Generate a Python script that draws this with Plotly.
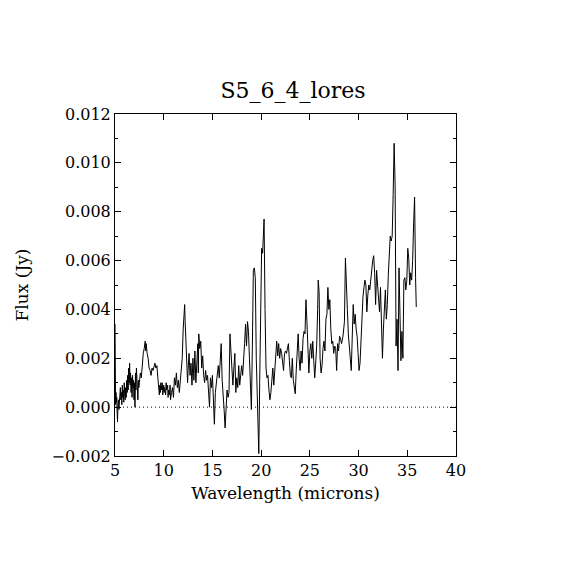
import plotly.graph_objects as go

# wavelength (microns) and flux (mJy, converted to Jy below)
wavelength = [
    5.00, 5.03, 5.06, 5.10, 5.14, 5.18, 5.22, 5.26, 5.30, 5.35, 5.40, 5.45, 5.50, 5.55,
    5.60, 5.65, 5.70, 5.75, 5.80, 5.85, 5.90, 5.95, 6.00, 6.05, 6.10, 6.15, 6.20, 6.25,
    6.30, 6.35, 6.40, 6.45, 6.50, 6.55, 6.60, 6.65, 6.70, 6.75, 6.80, 6.85, 6.90, 6.95,
    7.00, 7.05, 7.10, 7.15, 7.20, 7.25, 7.30, 7.35, 7.40, 7.45, 7.50, 7.60, 7.70, 7.80,
    7.90, 8.00, 8.10, 8.15, 8.20, 8.30, 8.40, 8.50, 8.60, 8.70, 8.80, 8.90, 9.00, 9.10,
    9.20, 9.30, 9.40, 9.50, 9.55, 9.60, 9.65, 9.70, 9.80, 9.85, 9.90, 10.00, 10.05, 10.10,
    10.20, 10.25, 10.30, 10.40, 10.45, 10.50, 10.60, 10.65, 10.70, 10.80, 10.90, 11.00,
    11.10, 11.20, 11.30, 11.40, 11.50, 11.60, 11.70, 11.80, 11.90, 12.00, 12.10, 12.15,
    12.20, 12.30, 12.40, 12.45, 12.50, 12.60, 12.70, 12.80, 12.90, 13.00, 13.10, 13.20,
    13.30, 13.40, 13.50, 13.55, 13.60, 13.70, 13.80, 13.90, 14.00, 14.10, 14.20, 14.30,
    14.40, 14.50, 14.60, 14.70, 14.80, 14.90, 15.00, 15.10, 15.20, 15.30, 15.40, 15.50,
    15.60, 15.70, 15.80, 15.90, 16.00, 16.10, 16.20, 16.30, 16.40, 16.50, 16.60, 16.70,
    16.80, 16.90, 17.00, 17.10, 17.20, 17.30, 17.40, 17.50, 17.60, 17.70, 17.80, 17.90,
    18.00, 18.10, 18.20, 18.30, 18.40, 18.50, 18.60, 18.70, 18.80, 18.90, 19.00, 19.10,
    19.20, 19.30, 19.40, 19.50, 19.60, 19.70, 19.76, 19.85, 19.95, 20.05, 20.15, 20.30,
    20.40, 20.50, 20.60, 20.70, 20.80, 20.90, 21.00, 21.10, 21.20, 21.30, 21.40, 21.50,
    21.60, 21.70, 21.80, 21.90, 22.00, 22.10, 22.20, 22.30, 22.40, 22.50, 22.60, 22.70,
    22.80, 22.90, 23.00, 23.10, 23.20, 23.30, 23.40, 23.50, 23.60, 23.70, 23.80, 23.90,
    24.00, 24.10, 24.20, 24.30, 24.40, 24.50, 24.60, 24.70, 24.80, 24.90, 25.00, 25.10,
    25.20, 25.30, 25.40, 25.50, 25.60, 25.70, 25.80, 25.86, 25.95, 26.05, 26.15, 26.25,
    26.35, 26.45, 26.55, 26.65, 26.75, 26.85, 26.95, 27.05, 27.15, 27.25, 27.35, 27.45,
    27.55, 27.65, 27.75, 27.85, 27.95, 28.05, 28.15, 28.25, 28.40, 28.55, 28.65, 28.75,
    28.85, 28.95, 29.05, 29.15, 29.25, 29.35, 29.45, 29.55, 29.65, 29.75, 29.85, 29.95,
    30.05, 30.15, 30.25, 30.35, 30.45, 30.55, 30.65, 30.75, 30.85, 30.95, 31.05, 31.15,
    31.25, 31.35, 31.45, 31.55, 31.65, 31.75, 31.85, 31.95, 32.05, 32.15, 32.25, 32.35,
    32.45, 32.55, 32.65, 32.75, 32.85, 32.95, 33.05, 33.15, 33.25, 33.35, 33.45, 33.55,
    33.65, 33.75, 33.85, 33.95, 34.05, 34.15, 34.25, 34.35, 34.45, 34.55, 34.65, 34.75,
    34.85, 34.95, 35.05, 35.15, 35.25, 35.35, 35.45, 35.55, 35.65, 35.75, 35.85, 35.92,
]
flux_mjy = [
    3.4, 1.8, 0.1, 0.6, 0.2, 0.4, -0.2, -0.6, 0.1, 0.3, -0.1, 0.5, 0.2, 0.8,
    0.3, 0.6, 0.1, 0.9, 0.4, 0.7, 0.2, 1.0, 0.5, 0.3, 0.8, 0.4, 1.1, 0.6,
    1.3, 0.7, 1.6, 1.0, 1.8, 0.9, 1.4, 0.6, 1.2, 0.4, 1.3, 0.8, 1.1, 0.3,
    1.0, 0.0, 1.4, 0.7, 1.6, 0.9, 1.2, 0.3, 1.1, 0.8, 1.0, 1.4, 1.2, 1.8,
    2.2, 2.4, 2.7, 2.3, 2.6, 2.2, 2.0, 1.6, 1.5, 1.3, 1.6, 1.5, 1.7, 1.8,
    1.6, 1.7, 1.2, 0.8, 0.5, 0.9, 0.6, 1.0, 0.7, 1.0, 0.5, 0.9, 0.6, 0.8,
    0.5, 1.0, 0.7, 0.9, 0.4, 0.7, 0.5, 0.9, 0.3, 0.6, 0.8, 0.4,
    1.2, 0.9, 1.4, 0.8, 1.1, 0.6, 1.0, 1.3, 2.0, 3.2, 4.0, 4.2,
    3.5, 2.3, 1.8, 1.0, 1.5, 2.2, 1.3, 1.8, 0.9, 2.0, 1.1, 2.3,
    1.0, 2.1, 2.6, 1.4, 3.0, 2.4, 2.7, 1.6, 2.1, 1.3, 1.0, 1.5,
    1.1, 1.3, 0.4, 0.0, 1.2, 0.8, 1.3, -0.2, -0.7, 0.6, 1.0, 1.4,
    1.7, 1.2, 1.8, 2.6, 1.1, 0.6, -0.1, -0.85, 0.4, 0.7, 0.4, 0.6,
    3.0, 2.2, 1.4, 0.9, 1.6, 2.2, 0.6, 1.2, 0.8, 1.7, 0.9, 1.5,
    1.7, 1.3, 1.8, 2.6, 3.4, 2.5, 3.5, 3.1, 2.0, 0.5, -0.1, 2.5,
    5.6, 5.7, 5.3, 2.0, 0.3, -0.5, -1.9, 1.0, 5.3, 6.5, 6.3, 7.7,
    4.0, 1.6, 1.2, 1.3, 0.7, 0.3, 0.6, 1.0, 1.6, 0.9, 1.5, 2.3,
    2.7, 2.1, 2.6, 2.0, 2.4, 2.2, 1.7, 1.5, 2.2, 2.3, 2.2, 2.4,
    2.6, 1.9, 1.3, 1.2, 2.0, 1.1, 0.7, 0.55, 1.5, 2.2, 3.0, 2.0,
    1.5, 2.3, 1.8, 2.8, 3.1, 3.0, 4.4, 3.5, 2.6, 1.4, 2.3, 2.6,
    2.0, 2.7, 1.9, 1.2, 1.8, 2.5, 4.0, 5.2, 4.7, 2.0, 1.4, 1.7,
    2.4, 2.7, 2.3, 3.6, 3.8, 4.9, 4.0, 4.4, 3.2, 2.6, 2.7, 2.2,
    2.5, 2.4, 1.5, 2.6, 2.3, 2.9, 2.8, 2.6, 2.9, 3.5, 6.1, 4.6,
    4.0, 3.0, 2.3, 2.0, 1.5, 3.3, 4.2, 3.4, 3.8, 3.2, 2.9, 2.2,
    1.5, 1.8, 2.8, 3.3, 4.5, 4.9, 5.2, 5.0, 3.9, 4.6, 5.0, 4.8,
    5.2, 5.8, 6.0, 6.2, 5.5, 4.2, 5.6, 5.0, 4.5, 3.9, 4.9, 3.4,
    2.0, 3.2, 4.0, 4.8, 3.6, 4.2, 5.4, 6.4, 7.0, 6.8, 7.0, 8.7,
    10.8, 9.1, 2.5, 3.6, 1.5, 5.7, 3.5, 1.9, 3.1, 2.0, 5.2, 5.3,
    4.8, 5.2, 6.5, 6.1, 5.0, 5.5, 5.2, 6.0, 7.5, 8.6, 5.3, 4.1,
]
flux = [v * 1e-3 for v in flux_mjy]

x_ticks = [5, 10, 15, 20, 25, 30, 35, 40]
y_ticks = [-0.002, 0.0, 0.002, 0.004, 0.006, 0.008, 0.010, 0.012]

FONT = "DejaVu Serif"

fig = go.Figure()
fig.add_trace(
    go.Scatter(
        x=wavelength,
        y=flux,
        mode="lines",
        line={"color": "black", "width": 1},
        showlegend=False,
    )
)
fig.add_hline(y=0, line={"color": "black", "width": 1, "dash": "1px,3px"})

# the page body adds an 8px offset, so the margins are shifted to compensate
fig.update_layout(
    width=570,
    height=570,
    paper_bgcolor="white",
    plot_bgcolor="white",
    margin={"l": 107, "r": 122, "t": 106, "b": 122},
    title={
        "text": "S5_6_4_lores",
        "x": 0.5,
        "xanchor": "center",
        "y": 0.855,
        "yanchor": "middle",
        "font": {"family": FONT, "size": 22, "color": "black"},
    },
    font={"family": FONT, "size": 16, "color": "black"},
)
fig.update_xaxes(
    range=[5, 40],
    tickvals=x_ticks,
    ticktext=[str(t) for t in x_ticks],
    ticks="inside",
    ticklen=6,
    tickcolor="black",
    showline=True,
    linecolor="black",
    linewidth=1,
    mirror="ticks",
    showgrid=False,
    zeroline=False,
    title={"text": "Wavelength (microns)", "standoff": 7, "font": {"size": 17}},
)
fig.update_yaxes(
    range=[-0.002, 0.012],
    tickvals=y_ticks,
    tickformat=".3f",
    ticks="inside",
    ticklen=6,
    tickcolor="black",
    minor={"ticks": "inside", "dtick": 0.001, "ticklen": 3, "tickcolor": "black", "showgrid": False},
    showline=True,
    linecolor="black",
    linewidth=1,
    mirror="ticks",
    showgrid=False,
    zeroline=False,
    title={"text": "Flux (Jy)", "standoff": 18, "font": {"size": 17}},
)

fig.write_html("out.html")
